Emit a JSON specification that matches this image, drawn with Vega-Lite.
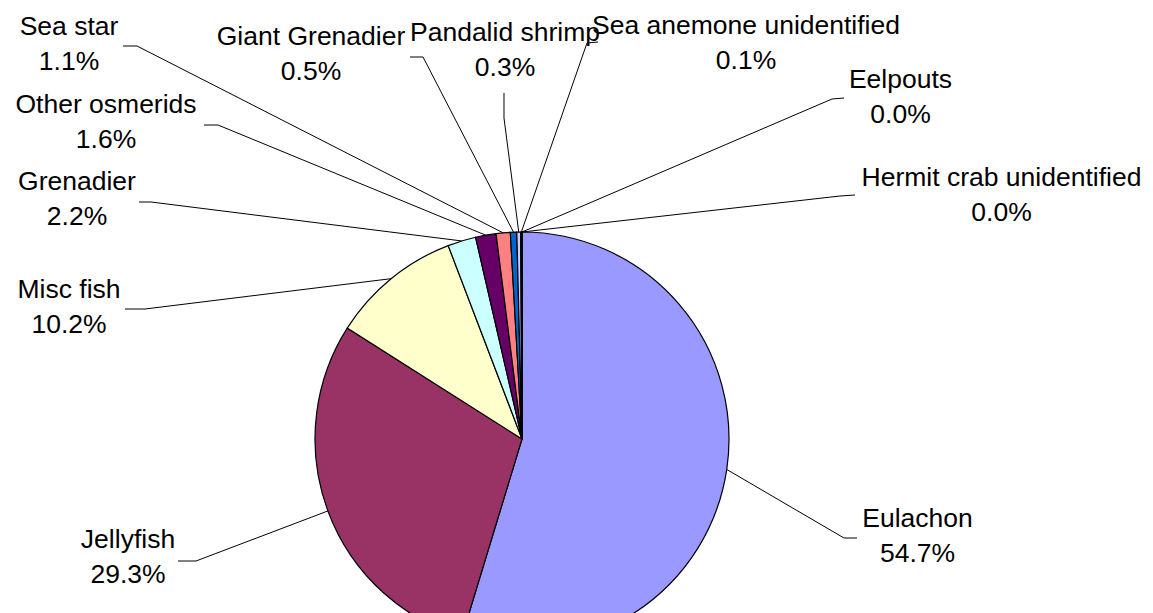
{
  "$schema": "https://vega.github.io/schema/vega-lite/v6.json",
  "width": 1153,
  "height": 613,
  "padding": 0,
  "autosize": {"type": "none"},
  "background": "white",
  "config": {"view": {"stroke": null}},
  "data": {
    "values": [
      {"i": 1, "name": "Eulachon", "pct": 54.7, "lx": 1.9106, "ly": -0.4275, "ax": 1.6184, "ay": -0.4783, "bx": 1.5556, "by": -0.4783},
      {"i": 2, "name": "Jellyfish", "pct": 29.3, "lx": -1.9034, "ly": -0.5266, "ax": -1.6618, "ay": -0.5894, "bx": -1.5749, "by": -0.5894},
      {"i": 3, "name": "Misc fish", "pct": 10.2, "lx": -2.1884, "ly": 0.6812, "ax": -1.9179, "ay": 0.628, "bx": -1.8213, "by": 0.628},
      {"i": 4, "name": "Grenadier", "pct": 2.2, "lx": -2.1498, "ly": 1.2029, "ax": -1.8502, "ay": 1.1449, "bx": -1.7923, "by": 1.1449},
      {"i": 5, "name": "Other osmerids", "pct": 1.6, "lx": -2.0097, "ly": 1.5749, "ax": -1.5362, "ay": 1.5169, "bx": -1.4686, "by": 1.5169},
      {"i": 6, "name": "Sea star", "pct": 1.1, "lx": -2.1884, "ly": 1.9517, "ax": -1.9275, "ay": 1.8986, "bx": -1.8599, "by": 1.8986},
      {"i": 7, "name": "Giant Grenadier", "pct": 0.5, "lx": -1.0193, "ly": 1.9034, "ax": -0.5411, "ay": 1.8454, "bx": -0.4783, "by": 1.8454},
      {"i": 8, "name": "Pandalid shrimp", "pct": 0.3, "lx": -0.0821, "ly": 1.9227, "ax": -0.087, "ay": 1.6715, "bx": -0.087, "by": 1.5507},
      {"i": 9, "name": "Sea anemone unidentified", "pct": 0.1, "lx": 1.0821, "ly": 1.9565, "ax": 0.3671, "ay": 1.9179, "bx": 0.314, "by": 1.913},
      {"i": 10, "name": "Eelpouts", "pct": 0.0, "lx": 1.8285, "ly": 1.6957, "ax": 1.5556, "ay": 1.6473, "bx": 1.4976, "by": 1.6425},
      {"i": 11, "name": "Hermit crab unidentified", "pct": 0.0, "lx": 2.3164, "ly": 1.2222, "ax": 1.6087, "ay": 1.1787, "bx": 1.5362, "by": 1.1739}
    ]
  },
  "layer": [
    {
      "mark": {"type": "arc", "outerRadius": 207, "stroke": "black", "strokeWidth": 1.2, "clip": true},
      "encoding": {
        "theta": {"field": "pct", "type": "quantitative", "stack": true},
        "order": {"field": "i", "type": "quantitative", "sort": "ascending"},
        "color": {
          "field": "name",
          "type": "nominal",
          "legend": null,
          "scale": {
            "domain": ["Eulachon", "Jellyfish", "Misc fish", "Grenadier", "Other osmerids", "Sea star", "Giant Grenadier", "Pandalid shrimp", "Sea anemone unidentified", "Eelpouts", "Hermit crab unidentified"],
            "range": ["#9999FF", "#993366", "#FFFFCC", "#CCFFFF", "#660066", "#FF8080", "#0066CC", "#CCCCFF", "#000080", "#FF00FF", "#FFFF00"]
          }
        },
        "x": {"datum": 0, "type": "quantitative", "axis": null, "scale": {"domain": [-2.52174, 3.04831], "nice": false, "zero": false}},
        "y": {"datum": 0, "type": "quantitative", "axis": null, "scale": {"domain": [-0.84058, 2.12077], "nice": false, "zero": false}}
      }
    },
    {
      "mark": {"type": "rule", "color": "black", "strokeWidth": 1},
      "encoding": {
        "x": {"field": "ax", "type": "quantitative", "axis": null, "scale": {"domain": [-2.52174, 3.04831], "nice": false, "zero": false}},
        "y": {"field": "ay", "type": "quantitative", "axis": null, "scale": {"domain": [-0.84058, 2.12077], "nice": false, "zero": false}},
        "x2": {"field": "bx"},
        "y2": {"field": "by"}
      }
    },
    {
      "transform": [
        {"joinaggregate": [{"op": "sum", "field": "pct", "as": "total"}]},
        {"window": [{"op": "sum", "field": "pct", "as": "cum"}], "sort": [{"field": "i", "order": "ascending"}], "frame": [null, 0]},
        {"calculate": "2 * PI * (datum.cum - datum.pct / 2) / datum.total", "as": "mid"},
        {"calculate": "sin(datum.mid)", "as": "cx"},
        {"calculate": "cos(datum.mid)", "as": "cy"}
      ],
      "mark": {"type": "rule", "color": "black", "strokeWidth": 1},
      "encoding": {
        "x": {"field": "bx", "type": "quantitative", "axis": null, "scale": {"domain": [-2.52174, 3.04831], "nice": false, "zero": false}},
        "y": {"field": "by", "type": "quantitative", "axis": null, "scale": {"domain": [-0.84058, 2.12077], "nice": false, "zero": false}},
        "x2": {"field": "cx"},
        "y2": {"field": "cy"}
      }
    },
    {
      "transform": [
        {"calculate": "[datum.name, format(datum.pct, '.1f') + '%']", "as": "label"}
      ],
      "mark": {"type": "text", "align": "center", "baseline": "alphabetic", "font": "Liberation Sans", "fontSize": 26.5, "lineHeight": 35, "color": "black"},
      "encoding": {
        "x": {"field": "lx", "type": "quantitative", "axis": null, "scale": {"domain": [-2.52174, 3.04831], "nice": false, "zero": false}},
        "y": {"field": "ly", "type": "quantitative", "axis": null, "scale": {"domain": [-0.84058, 2.12077], "nice": false, "zero": false}},
        "text": {"field": "label"}
      }
    }
  ]
}
